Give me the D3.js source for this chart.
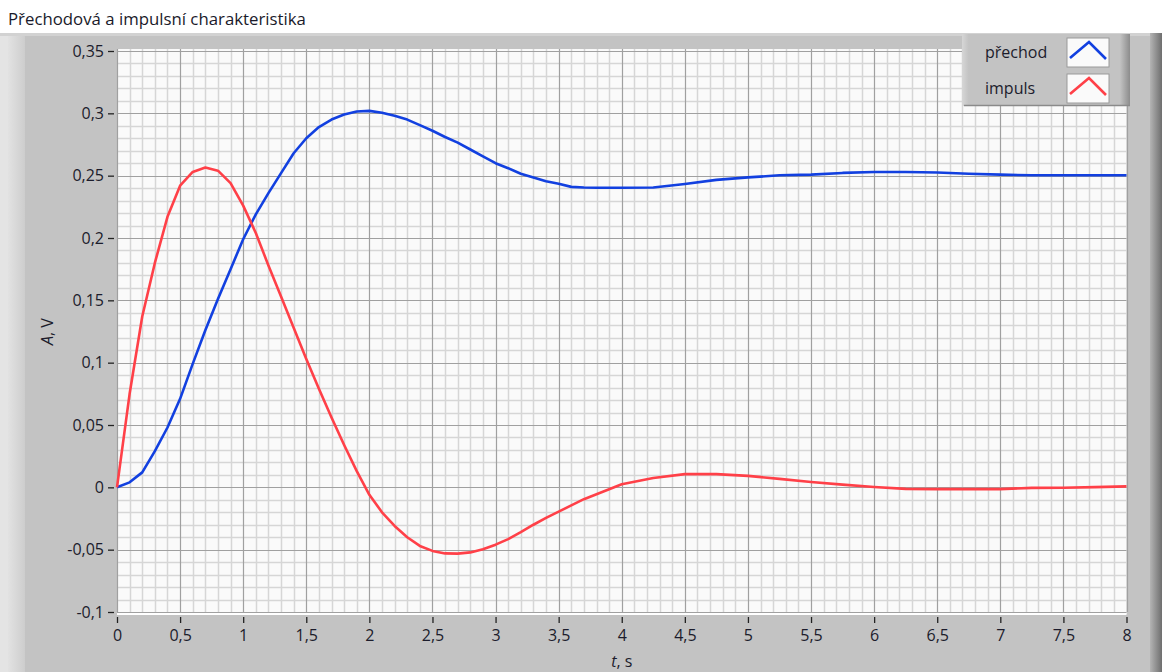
<!DOCTYPE html>
<html>
<head>
<meta charset="utf-8">
<script src="https://cdn.jsdelivr.net/npm/d3@7"></script>
<style>
  html, body { margin: 0; padding: 0; background: #fff; }
  svg { display: block; font-family: "Open Sans", "Noto Sans", sans-serif; }
</style>
</head>
<body>
<svg id="chart" width="1162" height="672"></svg>
<script>
// časové body (s)
const tVals = [
  0, 0.1, 0.2, 0.3, 0.4, 0.5, 0.6, 0.7, 0.8, 0.9,
  1.0, 1.1, 1.2, 1.3, 1.4, 1.5, 1.6, 1.7, 1.8, 1.9,
  2.0, 2.1, 2.2, 2.3, 2.4, 2.5, 2.6, 2.7, 2.8, 2.9,
  3.0, 3.1, 3.2, 3.3, 3.4, 3.5, 3.6, 3.7, 3.8, 3.9,
  4.0, 4.25, 4.5, 4.75, 5.0, 5.25, 5.5, 5.75, 6.0, 6.25,
  6.5, 6.75, 7.0, 7.25, 7.5, 7.75, 8.0
];

// přechodová charakteristika (modrá)
const prechod = [
  0, 0.004, 0.012, 0.029, 0.048, 0.071, 0.099, 0.126, 0.151, 0.175,
  0.199, 0.219, 0.236, 0.252, 0.268, 0.28, 0.289, 0.295, 0.299, 0.3015,
  0.302, 0.3005, 0.298, 0.295, 0.2905, 0.286, 0.281, 0.2765, 0.271, 0.2655,
  0.26, 0.256, 0.2515, 0.2485, 0.2455, 0.2435, 0.241, 0.2405, 0.2403, 0.2403,
  0.2403, 0.2405, 0.2433, 0.2466, 0.2486, 0.2503, 0.2508, 0.2522, 0.253, 0.253,
  0.2525, 0.2515, 0.2508, 0.2503, 0.2503, 0.2503, 0.2503
];

// impulsní charakteristika (červená)
const impuls = [
  0, 0.075, 0.137, 0.18, 0.217, 0.242, 0.253, 0.2565, 0.254, 0.244,
  0.226, 0.204, 0.178, 0.153, 0.128, 0.103, 0.079, 0.056, 0.034, 0.013,
  -0.006, -0.02, -0.031, -0.04, -0.047, -0.051, -0.053, -0.0532, -0.0522, -0.0497,
  -0.046, -0.0415, -0.036, -0.03, -0.0245, -0.0195, -0.0145, -0.0095, -0.0055, -0.0015,
  0.0025, 0.0075, 0.0106, 0.0106, 0.0092, 0.0068, 0.0043, 0.0022, 0.0003, -0.0012,
  -0.0014, -0.0014, -0.0014, -0.0004, -0.0003, 0.0002, 0.0008
];

const seriesNames = ["přechod", "impuls"];
const seriesColors = ["#1240e0", "#ff4048"];

const xTicks = d3.range(0, 8.001, 0.5);
const yTicks = d3.range(-0.1, 0.3501, 0.05);
const fmt = (v) => {
  const r = Math.round(v * 100) / 100;
  return (Math.abs(r) < 1e-9 ? "0" : String(r)).replace(".", ",");
};

const svg = d3.select("#chart");
const W = 1162, H = 672;

// šedý panel
const defs = svg.append("defs");
const gRight = defs.append("linearGradient").attr("id", "gRight");
gRight.append("stop").attr("offset", "0%").attr("stop-color", "#b4b4b4");
gRight.append("stop").attr("offset", "100%").attr("stop-color", "#6e6e6e");
const gLeft = defs.append("linearGradient").attr("id", "gLeft");
gLeft.append("stop").attr("offset", "0%").attr("stop-color", "#e2e2e2");
gLeft.append("stop").attr("offset", "100%").attr("stop-color", "#cdcdcd");
const gLeg = defs.append("linearGradient").attr("id", "gLeg");
gLeg.append("stop").attr("offset", "0%").attr("stop-color", "#d6d6d6");
gLeg.append("stop").attr("offset", "4%").attr("stop-color", "#c3c3c3");
gLeg.append("stop").attr("offset", "94%").attr("stop-color", "#c3c3c3");
gLeg.append("stop").attr("offset", "100%").attr("stop-color", "#8c8c8c");

svg.append("rect").attr("x", 0).attr("y", 33).attr("width", W).attr("height", H - 33).attr("fill", "#c3c3c3");
svg.append("rect").attr("x", 0).attr("y", 33).attr("width", 8).attr("height", H - 33).attr("fill", "#e4e4e4");
svg.append("rect").attr("x", 8).attr("y", 33).attr("width", 17).attr("height", H - 33).attr("fill", "url(#gLeft)");
svg.append("rect").attr("x", 0).attr("y", 33).attr("width", W).attr("height", 3).attr("fill", "#d2d2d2");
svg.append("rect").attr("x", 1150).attr("y", 33).attr("width", 12).attr("height", H - 33).attr("fill", "url(#gRight)");

// titulek
svg.append("text")
  .attr("x", 8).attr("y", 25)
  .attr("font-size", 16.8)
  .attr("fill", "#1a1a2a")
  .text("Přechodová a impulsní charakteristika");

// měřítka
const x = d3.scaleLinear().domain([0, 8]).range([117, 1126.5]);
const y = d3.scaleLinear().domain([-0.1, 0.35]).range([612, 51]);

// plocha grafu
svg.append("rect")
  .attr("x", x(0)).attr("y", y(0.35) - 2)
  .attr("width", x(8) - x(0)).attr("height", y(-0.1) - y(0.35) + 4)
  .attr("fill", "#fafafa");

const grid = svg.append("g");
const minorX = d3.range(0, 81).map((i) => i / 10).filter((v) => Math.round(v * 10) % 5 !== 0);
const minorY = d3.range(-10, 36).map((i) => i / 100).filter((v) => Math.round(v * 100) % 5 !== 0);

grid.selectAll(".mx").data(minorX).join("line")
  .attr("x1", (d) => Math.round(x(d)) + 0.5).attr("x2", (d) => Math.round(x(d)) + 0.5)
  .attr("y1", y(0.35) - 2).attr("y2", y(-0.1))
  .attr("stroke", "#d6d6d6").attr("stroke-width", 1.5);
grid.selectAll(".my").data(minorY).join("line")
  .attr("y1", (d) => Math.round(y(d)) + 0.5).attr("y2", (d) => Math.round(y(d)) + 0.5)
  .attr("x1", x(0)).attr("x2", x(8))
  .attr("stroke", "#d6d6d6").attr("stroke-width", 1.5);
grid.selectAll(".Mx").data(xTicks).join("line")
  .attr("x1", (d) => Math.round(x(d)) + 0.5).attr("x2", (d) => Math.round(x(d)) + 0.5)
  .attr("y1", y(0.35) - 2).attr("y2", y(-0.1))
  .attr("stroke", "#a0a0a0").attr("stroke-width", 1.2);
grid.selectAll(".My").data(yTicks).join("line")
  .attr("y1", (d) => Math.round(y(d)) + 0.5).attr("y2", (d) => Math.round(y(d)) + 0.5)
  .attr("x1", x(0)).attr("x2", x(8))
  .attr("stroke", "#a0a0a0").attr("stroke-width", 1.2);

// spodní bílá hrana
svg.append("line")
  .attr("x1", x(0)).attr("x2", x(8))
  .attr("y1", y(-0.1) + 2).attr("y2", y(-0.1) + 2)
  .attr("stroke", "#ffffff").attr("stroke-width", 2);

// osy
const yAxis = d3.axisLeft(y).tickValues(yTicks).tickFormat(fmt).tickSize(6).tickPadding(4);
const yG = svg.append("g").attr("transform", `translate(${x(0) - 3},0)`).call(yAxis);
yG.select(".domain").remove();

const xAxis = d3.axisBottom(x).tickValues(xTicks).tickFormat(fmt).tickSize(6).tickPadding(7);
const xG = svg.append("g").attr("transform", `translate(0,${y(-0.1) + 5})`).call(xAxis);
xG.select(".domain").remove();

[yG, xG].forEach((g) => {
  g.selectAll(".tick line").attr("stroke", "#222").attr("stroke-width", 1.3);
  g.selectAll(".tick text")
    .attr("font-family", '"Open Sans", "Noto Sans", sans-serif')
    .attr("font-size", 16).attr("fill", "#1c1c2c");
});

// popisky os
svg.append("text")
  .attr("transform", `translate(53,${(y(0.35) + y(-0.1)) / 2}) rotate(-90)`)
  .attr("text-anchor", "middle")
  .attr("font-size", 16).attr("fill", "#1c1c2c")
  .html('<tspan font-style="italic">A</tspan>, V');

svg.append("text")
  .attr("x", (x(0) + x(8)) / 2).attr("y", 667)
  .attr("text-anchor", "middle")
  .attr("font-size", 16).attr("fill", "#1c1c2c")
  .html('<tspan font-style="italic">t</tspan>, s');

// křivky
const line = d3.line()
  .x((d) => x(d[0]))
  .y((d) => y(d[1]));

const seriesData = [prechod, impuls].map((vals) => tVals.map((t, i) => [t, vals[i]]));

svg.append("g").selectAll("path").data(seriesData).join("path")
  .attr("d", line)
  .attr("fill", "none")
  .attr("stroke", (d, i) => seriesColors[i])
  .attr("stroke-width", 2.6)
  .attr("stroke-linejoin", "round");

// legenda
const leg = svg.append("g");
leg.append("rect")
  .attr("x", 962).attr("y", 34).attr("width", 168).attr("height", 72)
  .attr("fill", "url(#gLeg)");
leg.append("line")
  .attr("x1", 964).attr("x2", 1130).attr("y1", 105.5).attr("y2", 105.5)
  .attr("stroke", "#8a8a8a").attr("stroke-width", 1.5);

seriesNames.forEach((name, i) => {
  const top = 38 + i * 36;
  leg.append("text")
    .attr("x", 985).attr("y", top + 20)
    .attr("font-size", 16).attr("fill", "#1c1c2c")
    .text(name);
  leg.append("rect")
    .attr("x", 1067).attr("y", top).attr("width", 42).attr("height", 29)
    .attr("fill", "#fafafa").attr("stroke", "#9a9a9a").attr("stroke-width", 1);
  leg.append("polyline")
    .attr("points", `1070,${top + 20} 1089,${top + 4} 1106,${top + 21}`)
    .attr("fill", "none")
    .attr("stroke", seriesColors[i])
    .attr("stroke-width", 2.6);
});
</script>
</body>
</html>
